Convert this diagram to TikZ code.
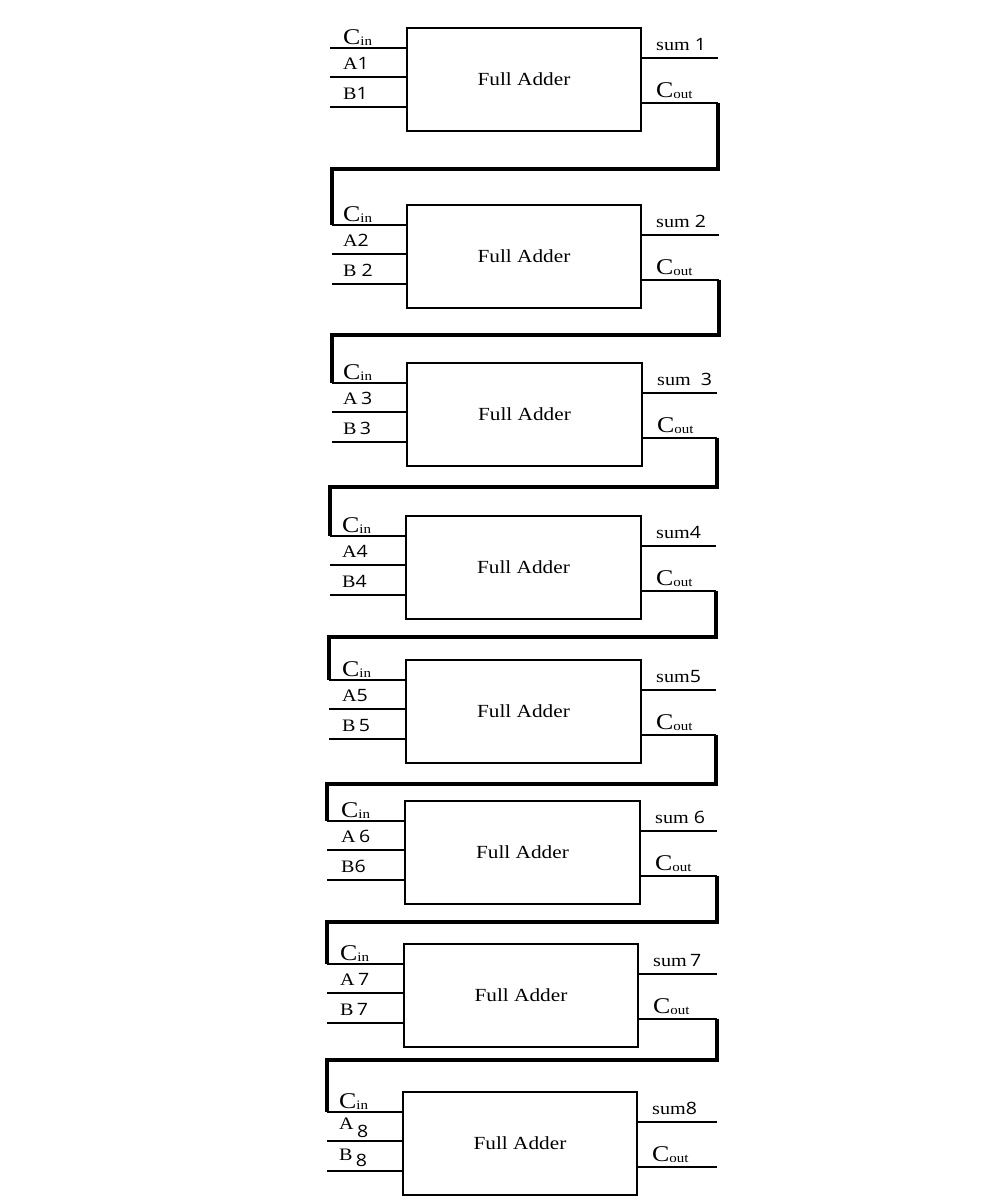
\documentclass[tikz,border=0pt]{standalone}
\usepackage{fontspec}
\usepackage{graphicx}
\setmainfont{Liberation Serif}
\newfontfamily\digitfont{Open Sans}
\newcommand\sx[1]{\scalebox{1.15}[1]{#1}}
\newcommand\dg[1]{{\digitfont\fontsize{17}{18}\selectfont #1}}
\newcommand\Cs[1]{{\fontsize{22.5}{23}\selectfont C}\raisebox{-1.5pt}{\fontsize{13}{13}\selectfont #1}}
\tikzset{
  fabox/.style={draw, line width=2pt, inner sep=0pt, outer sep=0pt,
    minimum height=103pt, font=\fontsize{18.5}{20}\selectfont},
  pinline/.style={line width=2pt},
  carry/.style={line width=3.2pt},
  lbl/.style={anchor=base west, inner sep=0pt, font=\fontsize{17.5}{19}\selectfont},
}
% #1 n, #2 L, #3 R, #4 T, #5 input x, #6 output x, #7 A label, #8 B label, #9 sum label
\newcommand\FA[9]{%
  \node[fabox, minimum width={#3-#2}, anchor=north west] (fa#1) at (#2,#4) {\sx{Full Adder}};
  \coordinate (ci#1) at (#5,#4+20);
  \coordinate (a#1) at (#5,#4+49);
  \coordinate (b#1) at (#5,#4+78.5);
  \coordinate (s#1) at (#6,#4+30);
  \coordinate (co#1) at (#6,#4+74.5);
  \draw[pinline] (ci#1) -- (ci#1 -| fa#1.west);
  \draw[pinline] (a#1) -- (a#1 -| fa#1.west);
  \draw[pinline] (b#1) -- (b#1 -| fa#1.west);
  \draw[pinline] (fa#1.east |- s#1) -- (s#1);
  \draw[pinline] (fa#1.east |- co#1) -- (co#1);
  \node[lbl] (lc#1) at (#2-64,#4+16) {\sx{\Cs{in}}};
  \node[lbl] (la#1) at (#2-64,#4+41) {\sx{#7}};
  \node[lbl] (lb#1) at (#2-64,#4+71) {\sx{#8}};
  \node[lbl] (ls#1) at (#3+15,#4+22) {\sx{#9}};
  \node[lbl] (lo#1) at (#3+15,#4+69) {\sx{\Cs{out}}};
}
\begin{document}
\begin{tikzpicture}[x=1pt,y=-1pt]
\useasboundingbox (0,0) rectangle (1000,1200);
\FA{1}{407}{641}{28}{330}{718}{A\dg{1}}{B\dg{1}}{sum \dg{1}}
\FA{2}{407}{641}{205}{332}{719}{A\dg{2}}{B \dg{2}}{sum \dg{2}}
\FA{3}{407}{642}{363}{332}{717}{A\,\dg{3}}{B\,\dg{3}}{sum\ \ \dg{3}}
\FA{4}{406}{641}{516}{330}{716}{A\dg{4}}{B\dg{4}}{sum\dg{4}}
\FA{5}{406}{641}{660}{329}{716}{A\dg{5}}{B\,\dg{5}}{sum\dg{5}}
\FA{6}{405}{640}{801}{327}{717}{A\,\dg{6}}{B\dg{6}}{sum \dg{6}}
\FA{7}{404}{638}{944}{327}{717}{A\,\dg{7}}{B\,\dg{7}}{sum\,\dg{7}}
\FA{8}{403}{637}{1092}{327}{717}{\raisebox{4pt}{A}\,\raisebox{-4pt}{\dg{8}}}{\raisebox{3pt}{B}\,\raisebox{-3pt}{\dg{8}}}{sum\dg{8}}
% carry connectors
\coordinate (t1) at (332,169);
\coordinate (t2) at (332,335);
\coordinate (t3) at (330,487);
\coordinate (t4) at (329,637);
\coordinate (t5) at (327,784);
\coordinate (t6) at (327,922);
\coordinate (t7) at (327,1060);
\draw[carry] (co1) |- (t1) -- (ci2);
\draw[carry] (co2) |- (t2) -- (ci3);
\draw[carry] (co3) |- (t3) -- (ci4);
\draw[carry] (co4) |- (t4) -- (ci5);
\draw[carry] (co5) |- (t5) -- (ci6);
\draw[carry] (co6) |- (t6) -- (ci7);
\draw[carry] (co7) |- (t7) -- (ci8);
\end{tikzpicture}
\end{document}
